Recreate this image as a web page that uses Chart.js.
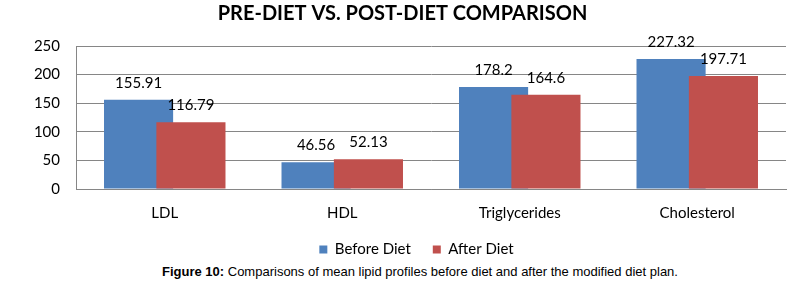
<!DOCTYPE html>
<html>
<head>
<meta charset="utf-8">
<script src="https://cdn.jsdelivr.net/npm/chart.js@4.4.1/dist/chart.umd.min.js"></script>
<style>
  html, body { margin: 0; padding: 0; background: #fff; }
  #wrap { position: relative; width: 808px; height: 261px; }
  #caption {
    position: absolute; left: 16px; top: 264px; width: 808px; text-align: center;
    font-family: "Liberation Sans", Arial, sans-serif;
    font-size: 13px; color: #000;
  }
</style>
</head>
<body>
<div id="wrap"><canvas id="dietChart" width="808" height="261"></canvas></div>
<div id="caption"><b>Figure 10:</b> Comparisons of mean lipid profiles before diet and after the modified diet plan.</div>
<script>
var categories = ["LDL", "HDL", "Triglycerides", "Cholesterol"];
var beforeDiet = [155.91, 46.56, 178.2, 227.32];
var afterDiet = [116.79, 52.13, 164.6, 197.71];
var seriesNames = ["Before Diet", "After Diet"];
var yTicks = [0, 50, 100, 150, 200, 250];

var blue = "#4F81BD";
var red = "#C0504D";

// red bars sit on top of the blue ones (excel overlap), labels above each bar
var overlapPlugin = {
    id: "overlap",
    afterLayout: function (chart) {
        // legend sits a bit right of the title and higher than its padding gives
        chart.legend.left += 14;
        chart.legend.right += 14;
        chart.legend.top -= 17;
        chart.legend.bottom -= 17;
    },
    beforeDatasetDraw: function (chart, args) {
        if (args.index === 1 && !chart.$redNow) {
            return false;
        }
    },
    afterDatasetsDraw: function (chart) {
        var ctx = chart.ctx;
        chart.$redNow = true;
        chart.getDatasetMeta(1).controller.draw();
        chart.$redNow = false;

        ctx.save();
        ctx.font = "15px Lato";
        ctx.fillStyle = "#000";
        ctx.textAlign = "center";
        ctx.textBaseline = "middle";
        chart.data.datasets.forEach(function (ds, i) {
            var meta = chart.getDatasetMeta(i);
            meta.data.forEach(function (bar, j) {
                ctx.fillText(String(ds.data[j]), bar.x, bar.y - 17);
            });
        });
        ctx.restore();
    }
};

var ctx = document.getElementById("dietChart").getContext("2d");
var dietChart = new Chart(ctx, {
    type: "bar",
    data: {
        labels: categories,
        datasets: [{
            label: seriesNames[0],
            data: beforeDiet,
            backgroundColor: blue,
            categoryPercentage: 0.59,
            barPercentage: 1.32
        }, {
            label: seriesNames[1],
            data: afterDiet,
            backgroundColor: red,
            categoryPercentage: 0.59,
            barPercentage: 1.32
        }]
    },
    options: {
        responsive: false,
        animation: false,
        layout: {
            padding: { left: 19, right: 22, top: 0, bottom: -23 }
        },
        scales: {
            x: {
                grid: { display: false, drawTicks: false },
                border: { color: "#868686", width: 1 },
                ticks: {
                    color: "#000",
                    font: { family: "Lato", size: 15 },
                    padding: 15
                }
            },
            y: {
                min: 0,
                max: 250,
                afterBuildTicks: function (scale) {
                    scale.ticks = yTicks.map(function (v) { return { value: v }; });
                },
                afterFit: function (scale) {
                    scale.width = 57;
                },
                grid: { color: "#868686", drawTicks: false },
                border: { color: "#868686", width: 1 },
                ticks: {
                    color: "#000",
                    font: { family: "Lato", size: 15 },
                    padding: 16
                }
            }
        },
        plugins: {
            title: {
                display: true,
                text: "PRE-DIET VS. POST-DIET COMPARISON",
                color: "#000",
                font: { family: "Lato", size: 20, weight: "bold" },
                padding: { top: 2, bottom: 20 }
            },
            legend: {
                position: "bottom",
                labels: {
                    color: "#000",
                    font: { family: "Lato", size: 15 },
                    boxWidth: 8,
                    boxHeight: 8,
                    padding: 22
                }
            },
            tooltip: { enabled: false }
        }
    },
    plugins: [overlapPlugin]
});
</script>
</body>
</html>
